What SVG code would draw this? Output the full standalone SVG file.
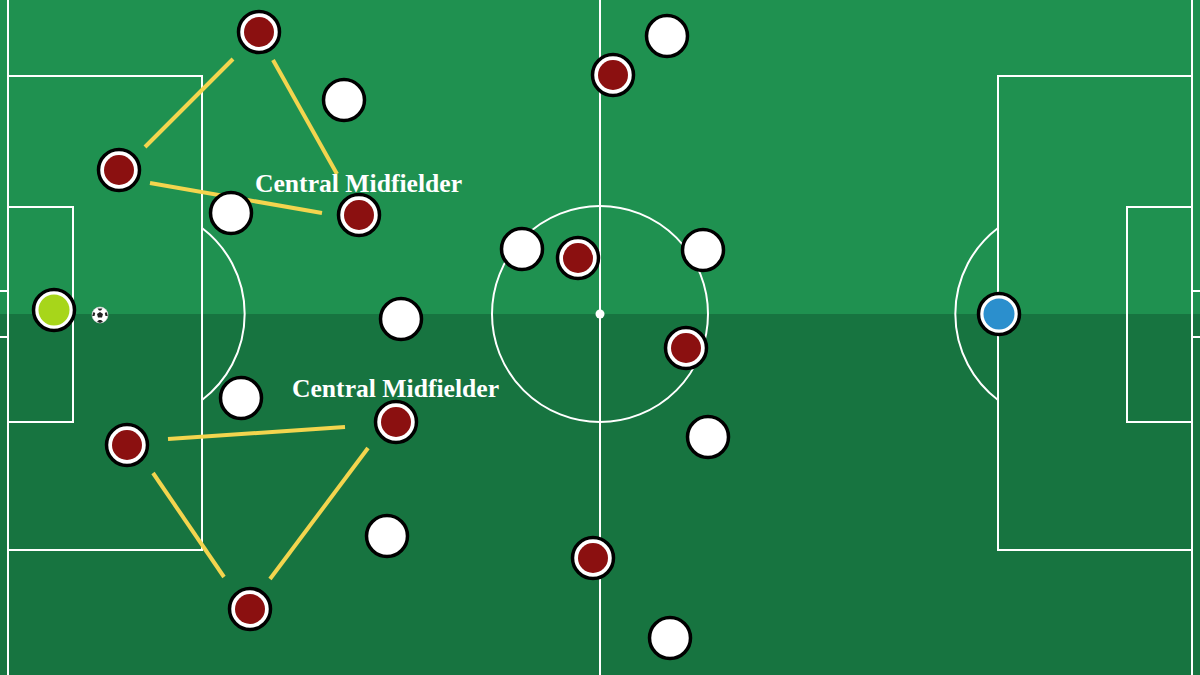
<svg xmlns="http://www.w3.org/2000/svg" width="1200" height="675" viewBox="0 0 1200 675">
<style>
.ln{fill:none;stroke:#fff;stroke-width:2}
.pl{stroke:#000;stroke-width:3.5;fill:#fff}
.red{fill:#8b1010}
.con{stroke:#f3d54e;stroke-width:4;stroke-linecap:butt}
.lbl{font-family:"Liberation Serif","DejaVu Serif",serif;font-weight:bold;font-size:25px;fill:#fff}
</style>
<g id="pitch">
<rect x="0" y="0" width="1200" height="314" fill="#1f9150"/>
<rect x="0" y="314" width="1200" height="361" fill="#177440"/>
<line class="ln" x1="8" y1="0" x2="8" y2="675"/>
<line class="ln" x1="1192" y1="0" x2="1192" y2="675"/>
<line class="ln" x1="600" y1="0" x2="600" y2="675"/>
<circle class="ln" cx="600" cy="314" r="108"/>
<circle cx="600" cy="314" r="4.5" fill="#fff"/>
<rect class="ln" x="8" y="76" width="194" height="474"/>
<rect class="ln" x="8" y="207" width="65" height="215"/>
<path class="ln" d="M0 291 H8 M0 337 H8"/>
<path class="ln" d="M202 228 A108 108 0 0 1 202 400"/>
<rect class="ln" x="998" y="76" width="194" height="474"/>
<rect class="ln" x="1127" y="207" width="65" height="215"/>
<path class="ln" d="M1192 291 H1200 M1192 337 H1200"/>
<path class="ln" d="M998 228 A108 108 0 0 0 998 400"/>
</g>
<g id="connectors">
<line class="con" x1="145" y1="147" x2="233" y2="59"/>
<line class="con" x1="273" y1="60" x2="337" y2="174"/>
<line class="con" x1="150" y1="183" x2="322" y2="213"/>
<line class="con" x1="168" y1="439" x2="345" y2="427"/>
<line class="con" x1="153" y1="473" x2="224" y2="577"/>
<line class="con" x1="270" y1="579" x2="368" y2="448"/>
</g>
<g id="ball">
<circle cx="100" cy="315" r="8" fill="#fff" stroke="#ccc" stroke-width="0.6"/>
<polygon points="100,312 103,314 102,317.5 98,317.5 97,314" fill="#222"/>
<path d="M97.5 308.5 L102.5 308.5 L101 310.5 L99 310.5 Z M106.5 312 L107.8 316 L105.5 316 L104.8 313 Z M93.5 312 L95.2 313 L94.5 316 L92.2 316 Z M97 321.5 L99 320 L101 320 L103 321.5 L100 323 Z" fill="#222"/>
</g>
<g id="gk-home"><circle class="pl" cx="54" cy="310" r="20.5"/><circle cx="54" cy="310" r="15.5" fill="#a7d61a"/></g>
<g id="gk-away"><circle class="pl" cx="999" cy="314" r="20.5"/><circle cx="999" cy="314" r="15.5" fill="#2b8fcd"/></g>
<g id="r1"><circle class="pl" cx="259" cy="32" r="20.5"/><circle class="red" cx="259" cy="32" r="15"/></g>
<g id="r2"><circle class="pl" cx="119" cy="170" r="20.5"/><circle class="red" cx="119" cy="170" r="15"/></g>
<g id="r3"><circle class="pl" cx="359" cy="215" r="20.5"/><circle class="red" cx="359" cy="215" r="15"/></g>
<g id="r4"><circle class="pl" cx="578" cy="258" r="20.5"/><circle class="red" cx="578" cy="258" r="15"/></g>
<g id="r5"><circle class="pl" cx="613" cy="75" r="20.5"/><circle class="red" cx="613" cy="75" r="15"/></g>
<g id="r6"><circle class="pl" cx="686" cy="348" r="20.5"/><circle class="red" cx="686" cy="348" r="15"/></g>
<g id="r7"><circle class="pl" cx="396" cy="422" r="20.5"/><circle class="red" cx="396" cy="422" r="15"/></g>
<g id="r8"><circle class="pl" cx="127" cy="445" r="20.5"/><circle class="red" cx="127" cy="445" r="15"/></g>
<g id="r9"><circle class="pl" cx="250" cy="609" r="20.5"/><circle class="red" cx="250" cy="609" r="15"/></g>
<g id="r10"><circle class="pl" cx="593" cy="558" r="20.5"/><circle class="red" cx="593" cy="558" r="15"/></g>
<g id="w1"><circle class="pl" cx="344" cy="100" r="20.5"/></g>
<g id="w2"><circle class="pl" cx="231" cy="213" r="20.5"/></g>
<g id="w3"><circle class="pl" cx="667" cy="36" r="20.5"/></g>
<g id="w4"><circle class="pl" cx="522" cy="249" r="20.5"/></g>
<g id="w5"><circle class="pl" cx="703" cy="250" r="20.5"/></g>
<g id="w6"><circle class="pl" cx="401" cy="319" r="20.5"/></g>
<g id="w7"><circle class="pl" cx="241" cy="398" r="20.5"/></g>
<g id="w8"><circle class="pl" cx="387" cy="536" r="20.5"/></g>
<g id="w9"><circle class="pl" cx="708" cy="437" r="20.5"/></g>
<g id="w10"><circle class="pl" cx="670" cy="638" r="20.5"/></g>
<g id="label1"><text class="lbl" x="255" y="192" textLength="207" lengthAdjust="spacingAndGlyphs">Central Midfielder</text></g>
<g id="label2"><text class="lbl" x="292" y="397" textLength="207" lengthAdjust="spacingAndGlyphs">Central Midfielder</text></g>
</svg>
